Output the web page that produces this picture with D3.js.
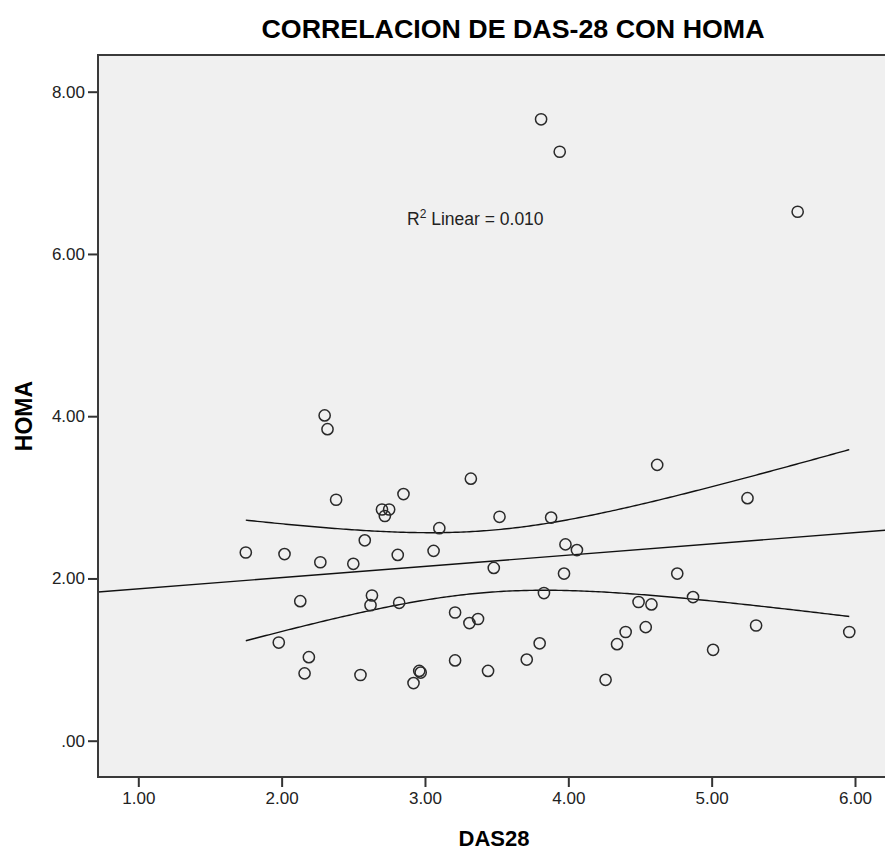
<!DOCTYPE html>
<html>
<head>
<meta charset="utf-8">
<script src="https://cdn.jsdelivr.net/npm/d3@7/dist/d3.min.js"></script>
<style>
    body { margin: 0; background: #fff; }
    svg text { font-family: "Liberation Sans", Arial, sans-serif; fill: #222; }
</style>
</head>
<body>
<svg id="main-canvas" width="885" height="850"></svg>
<script>
// valores (DAS28, HOMA)
var das28Values = [
    3.81, 3.94, 5.60, 2.30, 2.32, 2.38, 2.85, 2.70, 2.75, 2.72,
    2.58, 1.75, 2.02, 2.81, 3.06, 2.27, 2.50, 2.13, 2.63, 2.62,
    2.82, 1.98, 2.19, 2.16, 2.55, 2.96, 2.97, 2.92, 3.32, 3.52,
    3.88, 3.10, 3.98, 4.06, 3.48, 3.97, 3.83, 3.21, 3.31, 3.37,
    3.80, 3.71, 3.21, 3.44, 4.34, 4.26, 4.62, 5.25, 4.76, 4.49,
    4.58, 4.87, 4.40, 4.54, 5.31, 5.96, 5.01
]
var homaValues = [
    7.66, 7.26, 6.52, 4.01, 3.84, 2.97, 3.04, 2.85, 2.85, 2.77,
    2.47, 2.32, 2.30, 2.29, 2.34, 2.20, 2.18, 1.72, 1.79, 1.67,
    1.70, 1.21, 1.03, 0.83, 0.81, 0.86, 0.84, 0.71, 3.23, 2.76,
    2.75, 2.62, 2.42, 2.35, 2.13, 2.06, 1.82, 1.58, 1.45, 1.50,
    1.20, 1.00, 0.99, 0.86, 1.19, 0.75, 3.40, 2.99, 2.06, 1.71,
    1.68, 1.77, 1.34, 1.40, 1.42, 1.34, 1.12
]
var xTickValues = [1, 2, 3, 4, 5, 6]
var yTickValues = [0, 2, 4, 6, 8]
var chartTitle = "CORRELACION DE DAS-28 CON HOMA"
var xAxisTitle = "DAS28"
var yAxisTitle = "HOMA"
var r2Value = "0.010"
var tCrit = 2.004   // t 95%, gl = n - 2

var svg = d3.select("#main-canvas")
var frame = {left: 98, right: 892, top: 55, bottom: 777}

var xScale = d3.scaleLinear().domain([1, 6]).range([138.3, 855])
var yScale = d3.scaleLinear().domain([0, 8]).range([740.7, 91.7])

var fmt = function (v) { return v === 0 ? ".00" : d3.format(".2f")(v) }

// fondo del area de trazado
svg.append("rect")
    .attr("x", frame.left)
    .attr("y", frame.top)
    .attr("width", frame.right - frame.left)
    .attr("height", frame.bottom - frame.top)
    .attr("fill", "#f0f0f0")

svg.append("clipPath")
    .attr("id", "plot-clip")
    .append("rect")
    .attr("x", frame.left)
    .attr("y", frame.top)
    .attr("width", frame.right - frame.left)
    .attr("height", frame.bottom - frame.top)

// regresion lineal y banda de confianza de la media
var n = das28Values.length
var mx = d3.mean(das28Values)
var my = d3.mean(homaValues)
var sxx = 0, sxy = 0
for (var i = 0; i < n; i++) {
    sxx += (das28Values[i] - mx) * (das28Values[i] - mx)
    sxy += (das28Values[i] - mx) * (homaValues[i] - my)
}
var slope = sxy / sxx
var intercept = my - slope * mx
var sse = 0
for (var i = 0; i < n; i++) {
    var r = homaValues[i] - (intercept + slope * das28Values[i])
    sse += r * r
}
var se = Math.sqrt(sse / (n - 2))

var fitLine = function (xv) { return intercept + slope * xv }
var halfBand = function (xv) { return tCrit * se * Math.sqrt(1 / n + (xv - mx) * (xv - mx) / sxx) }

var g = svg.append("g").attr("clip-path", "url(#plot-clip)")

var xLo = xScale.invert(frame.left), xHi = xScale.invert(frame.right)
g.append("line")
    .attr("x1", frame.left)
    .attr("y1", yScale(fitLine(xLo)))
    .attr("x2", frame.right)
    .attr("y2", yScale(fitLine(xHi)))
    .attr("stroke", "#111")
    .attr("stroke-width", 1.4)

var xMin = d3.min(das28Values), xMax = d3.max(das28Values)
var samples = d3.range(xMin, xMax, 0.02).concat([xMax])
var line = d3.line().x(d => xScale(d[0])).y(d => yScale(d[1]))

g.append("path")
    .attr("d", line(samples.map(v => [v, fitLine(v) + halfBand(v)])))
    .attr("fill", "none")
    .attr("stroke", "#111")
    .attr("stroke-width", 1.4)

g.append("path")
    .attr("d", line(samples.map(v => [v, fitLine(v) - halfBand(v)])))
    .attr("fill", "none")
    .attr("stroke", "#111")
    .attr("stroke-width", 1.4)

// puntos
g.selectAll("circle.pt")
    .data(d3.range(n))
    .enter()
    .append("circle")
    .attr("class", "pt")
    .attr("cx", i => xScale(das28Values[i]))
    .attr("cy", i => yScale(homaValues[i]))
    .attr("r", 5.6)
    .attr("fill", "none")
    .attr("stroke", "#2a2a2a")
    .attr("stroke-width", 1.5)

// ejes
var yAxis = d3.axisLeft(yScale)
    .tickValues(yTickValues)
    .tickFormat(fmt)
    .tickSize(10)
    .tickPadding(3)
var xAxis = d3.axisBottom(xScale)
    .tickValues(xTickValues)
    .tickFormat(fmt)
    .tickSize(10)
    .tickPadding(5)

var yg = svg.append("g").attr("transform", "translate(" + frame.left + ",0)").call(yAxis)
var xg = svg.append("g").attr("transform", "translate(0," + frame.bottom + ")").call(xAxis)
yg.select(".domain").remove()
xg.select(".domain").remove()
svg.selectAll(".tick line").attr("stroke", "#333").attr("stroke-width", 2)
svg.selectAll(".tick text").attr("font-size", 17).attr("fill", "#222")

// marco
svg.append("path")
    .attr("d", "M" + frame.right + "," + frame.top + "H" + frame.left + "V" + frame.bottom + "H" + frame.right)
    .attr("fill", "none")
    .attr("stroke", "#3a3a3a")
    .attr("stroke-width", 2)

// titulos
svg.append("text")
    .attr("x", 513)
    .attr("y", 38)
    .attr("text-anchor", "middle")
    .attr("font-size", 25)
    .attr("font-weight", "bold")
    .attr("textLength", 503)
    .attr("lengthAdjust", "spacingAndGlyphs")
    .style("fill", "#000")
    .text(chartTitle)

svg.append("text")
    .attr("x", 494)
    .attr("y", 846)
    .attr("text-anchor", "middle")
    .attr("font-size", 22)
    .attr("font-weight", "bold")
    .style("fill", "#000")
    .text(xAxisTitle)

svg.append("text")
    .attr("transform", "translate(32,416) rotate(-90)")
    .attr("text-anchor", "middle")
    .attr("font-size", 23)
    .attr("font-weight", "bold")
    .style("fill", "#000")
    .text(yAxisTitle)

// etiqueta R2
var r2 = svg.append("text")
    .attr("x", 407)
    .attr("y", 225)
    .attr("font-size", 17.5)
r2.append("tspan").text("R")
r2.append("tspan").attr("dy", -7).attr("font-size", 12).text("2")
r2.append("tspan").attr("dy", 7).text(" Linear = " + r2Value)
</script>
</body>
</html>
